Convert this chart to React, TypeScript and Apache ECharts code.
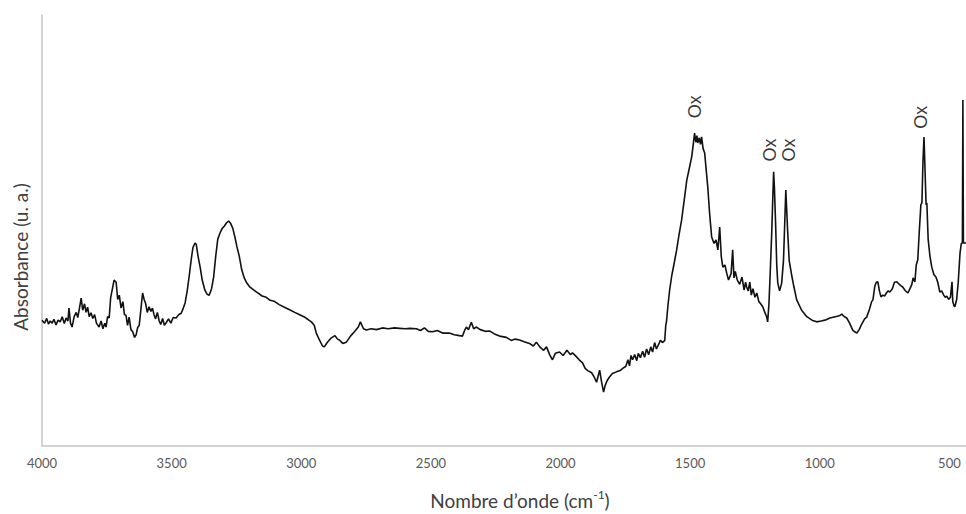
import React, { useEffect, useRef } from "react";
import * as echarts from "echarts";

// Wavenumber (cm-1) and absorbance (arbitrary units)
const spectrum: [number, number][] = [
  [4000,0.292],[3990,0.285],[3982,0.296],[3975,0.283],[3968,0.290],[3961,0.285],[3954,0.294],[3946,0.281],[3938,0.292],[3930,0.288],
  [3922,0.300],[3914,0.284],[3907,0.297],[3900,0.290],[3896,0.320],[3890,0.285],[3884,0.276],[3876,0.300],[3868,0.310],[3862,0.298],
  [3856,0.318],[3849,0.343],[3843,0.315],[3836,0.330],[3830,0.310],[3824,0.322],[3818,0.300],[3811,0.309],[3804,0.296],[3797,0.305],
  [3790,0.285],[3780,0.276],[3772,0.290],[3765,0.272],[3758,0.285],[3753,0.276],[3747,0.300],[3741,0.297],[3735,0.345],[3730,0.360],
  [3722,0.385],[3714,0.380],[3708,0.340],[3702,0.350],[3695,0.320],[3688,0.335],[3682,0.305],[3676,0.303],[3670,0.280],[3664,0.299],
  [3657,0.270],[3650,0.265],[3643,0.252],[3637,0.258],[3631,0.275],[3625,0.280],[3618,0.320],[3612,0.355],[3606,0.340],[3600,0.330],
  [3594,0.310],[3587,0.323],[3580,0.312],[3574,0.320],[3568,0.305],[3562,0.295],[3555,0.310],[3548,0.290],[3542,0.282],[3535,0.296],
  [3528,0.280],[3521,0.286],[3512,0.295],[3503,0.285],[3494,0.298],[3483,0.297],[3472,0.305],[3463,0.308],[3455,0.320],[3448,0.332],
  [3440,0.360],[3432,0.395],[3425,0.430],[3418,0.460],[3410,0.471],[3405,0.468],[3398,0.440],[3390,0.415],[3382,0.385],[3372,0.362],
  [3363,0.352],[3355,0.350],[3346,0.365],[3338,0.392],[3330,0.440],[3322,0.480],[3314,0.493],[3305,0.505],[3297,0.510],[3288,0.518],
  [3280,0.522],[3272,0.516],[3264,0.505],[3256,0.485],[3248,0.462],[3239,0.440],[3230,0.410],[3220,0.390],[3210,0.378],[3200,0.370],
  [3190,0.365],[3175,0.358],[3160,0.352],[3151,0.348],[3135,0.345],[3120,0.338],[3105,0.336],[3085,0.328],[3065,0.322],[3045,0.316],
  [3025,0.310],[3008,0.305],[2990,0.300],[2975,0.294],[2961,0.288],[2950,0.280],[2942,0.262],[2930,0.246],[2918,0.232],[2911,0.230],
  [2900,0.240],[2884,0.251],[2870,0.256],[2860,0.248],[2853,0.246],[2840,0.238],[2826,0.241],[2810,0.255],[2795,0.265],[2780,0.276],
  [2772,0.288],[2760,0.272],[2749,0.269],[2730,0.272],[2710,0.270],[2687,0.274],[2665,0.272],[2640,0.274],[2620,0.273],[2600,0.272],
  [2580,0.273],[2556,0.272],[2540,0.268],[2525,0.274],[2510,0.266],[2494,0.265],[2475,0.268],[2455,0.262],[2429,0.262],[2410,0.258],
  [2390,0.256],[2378,0.255],[2370,0.268],[2363,0.276],[2355,0.270],[2344,0.287],[2335,0.272],[2324,0.276],[2310,0.270],[2290,0.266],
  [2274,0.267],[2255,0.260],[2235,0.255],[2209,0.252],[2190,0.245],[2175,0.248],[2158,0.246],[2140,0.242],[2120,0.238],[2105,0.232],
  [2093,0.241],[2080,0.230],[2065,0.222],[2054,0.230],[2042,0.212],[2031,0.200],[2020,0.215],[2004,0.218],[1990,0.210],[1975,0.222],
  [1962,0.212],[1954,0.216],[1940,0.208],[1928,0.200],[1915,0.193],[1905,0.180],[1895,0.175],[1880,0.170],[1870,0.160],[1861,0.148],
  [1855,0.162],[1849,0.176],[1842,0.150],[1834,0.125],[1828,0.140],[1820,0.152],[1811,0.160],[1800,0.168],[1784,0.172],[1770,0.175],
  [1760,0.180],[1748,0.185],[1740,0.200],[1734,0.186],[1728,0.210],[1722,0.200],[1714,0.212],[1706,0.198],[1700,0.215],[1692,0.205],
  [1683,0.220],[1676,0.206],[1668,0.225],[1660,0.212],[1652,0.230],[1645,0.218],[1637,0.240],[1630,0.225],[1622,0.235],[1615,0.245],
  [1606,0.240],[1598,0.245],[1594,0.280],[1591,0.290],[1585,0.330],[1579,0.362],[1571,0.395],[1563,0.420],[1552,0.455],[1543,0.490],
  [1533,0.524],[1523,0.570],[1513,0.617],[1503,0.645],[1494,0.671],[1488,0.700],[1483,0.726],[1478,0.705],[1474,0.720],[1471,0.703],
  [1465,0.715],[1460,0.700],[1456,0.717],[1450,0.690],[1444,0.680],[1438,0.640],[1432,0.601],[1425,0.540],[1417,0.485],[1408,0.470],
  [1400,0.478],[1393,0.455],[1386,0.508],[1380,0.440],[1374,0.415],[1366,0.420],[1359,0.401],[1352,0.385],[1342,0.400],[1336,0.455],
  [1331,0.390],[1326,0.405],[1318,0.385],[1309,0.375],[1300,0.392],[1292,0.362],[1286,0.380],[1282,0.369],[1276,0.360],[1270,0.380],
  [1264,0.350],[1258,0.365],[1250,0.345],[1243,0.355],[1235,0.335],[1228,0.330],[1220,0.323],[1212,0.310],[1205,0.300],[1201,0.288],
  [1196,0.330],[1190,0.420],[1185,0.500],[1181,0.580],[1178,0.636],[1175,0.600],[1170,0.508],[1166,0.420],[1162,0.378],[1155,0.360],
  [1147,0.378],[1140,0.430],[1135,0.520],[1131,0.594],[1127,0.540],[1124,0.500],[1118,0.430],[1108,0.395],[1100,0.370],[1089,0.339],
  [1070,0.315],[1050,0.300],[1030,0.292],[1012,0.288],[995,0.290],[980,0.292],[961,0.297],[940,0.300],[925,0.302],[915,0.306],
  [905,0.300],[896,0.297],[885,0.285],[873,0.269],[865,0.265],[857,0.262],[848,0.270],[838,0.283],[827,0.295],[819,0.299],
  [808,0.318],[800,0.335],[795,0.339],[788,0.370],[782,0.380],[776,0.381],[770,0.360],[764,0.346],[757,0.350],[750,0.348],
  [743,0.355],[736,0.360],[730,0.357],[720,0.365],[712,0.380],[703,0.381],[695,0.376],[688,0.372],[680,0.369],[672,0.362],
  [666,0.358],[660,0.355],[652,0.365],[645,0.375],[640,0.390],[633,0.381],[628,0.420],[622,0.432],[616,0.500],[610,0.560],
  [606,0.564],[602,0.660],[598,0.717],[594,0.640],[590,0.560],[587,0.564],[582,0.480],[575,0.440],[568,0.415],[560,0.398],
  [552,0.392],[545,0.380],[537,0.357],[530,0.360],[522,0.350],[516,0.345],[510,0.348],[503,0.340],[496,0.345],[490,0.381],
  [487,0.335],[482,0.325],[479,0.323],[472,0.340],[466,0.380],[459,0.448],[454,0.470],[450,0.471],[448,0.803],[446,0.471],
  [436,0.471],
];

// "Ox" annotations: wavenumber and height of label centre
const oxWavenumbers = [1483, 1193, 1120, 610];
const oxHeights = [0.787, 0.687, 0.687, 0.763];

const xTicks = [4000, 3500, 3000, 2500, 2000, 1500, 1000, 500];
const xMin = 436;
const xMax = 4000;

const xTitle = "Nombre d’onde (cm";
const yTitle = "Absorbance (u. a.)";

export default function App() {
  const ref = useRef<HTMLDivElement>(null);
  useEffect(() => {
    if (!ref.current) return;
    const chart = echarts.init(ref.current, null, { renderer: "svg" });
    const axisColor = "#c3c3c3";
    chart.setOption({
      animation: false,
      backgroundColor: "#ffffff",
      grid: { left: 42, right: 0, top: 15, bottom: 68, outerBoundsMode: "none" },
      xAxis: {
        type: "value",
        inverse: true,
        min: xMin,
        max: xMax,
        axisLine: { show: true, lineStyle: { color: axisColor, width: 1.5 } },
        axisTick: { show: false },
        splitLine: { show: false },
        axisLabel: {
          customValues: xTicks,
          formatter: (v: number) => String(v),
          color: "#595959",
          fontFamily: "Lato",
          fontSize: 13,
          margin: 10,
        },
      },
      yAxis: {
        type: "value",
        min: 0,
        max: 1,
        axisLine: { show: true, lineStyle: { color: axisColor, width: 1.5 } },
        axisTick: { show: false },
        axisLabel: { show: false },
        splitLine: { show: false },
      },
      graphic: [
        {
          type: "text",
          x: 20,
          y: 257,
          rotation: Math.PI / 2,
          style: {
            text: yTitle,
            font: "19px Lato",
            fill: "#404040",
            align: "center",
            verticalAlign: "middle",
          },
        },
        {
          type: "text",
          x: 520,
          y: 500,
          style: {
            text: xTitle + "{sup|-1})",
            font: "19px Lato",
            fill: "#404040",
            align: "center",
            verticalAlign: "middle",
            lineHeight: 24,
            rich: {
              sup: { fontSize: 12, fontFamily: "Lato", fill: "#404040", lineHeight: 12, verticalAlign: "top" },
            },
          },
        },
      ],
      series: [
        {
          type: "line",
          data: spectrum,
          showSymbol: false,
          symbol: "none",
          lineStyle: { color: "#111111", width: 1.6 },
          silent: true,
        },
        {
          type: "scatter",
          symbolSize: 0,
          data: oxWavenumbers.map((w, i) => [w, oxHeights[i]]),
          label: {
            show: true,
            position: "inside",
            formatter: "Ox",
            rotate: 90,
            color: "#000000",
            fontFamily: "Liberation Sans",
            fontSize: 18,
          },
          silent: true,
        },
      ],
    });
    return () => chart.dispose();
  }, []);
  return (
    <div
      ref={ref}
      style={{ position: "absolute", left: 0, top: 0, width: 966, height: 514 }}
    />
  );
}
